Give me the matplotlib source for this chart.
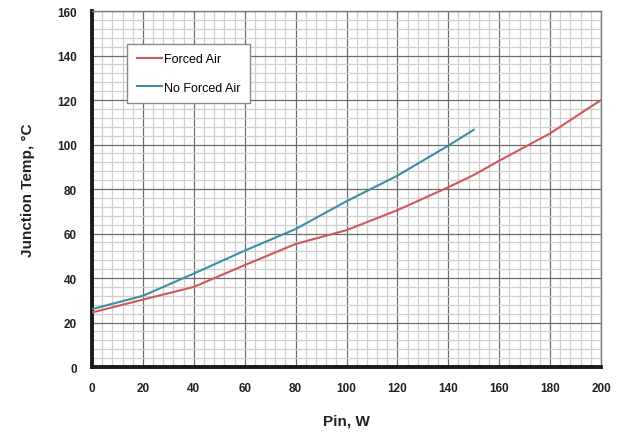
import matplotlib
matplotlib.use("Agg")
import matplotlib.pyplot as plt
from matplotlib.ticker import MultipleLocator

pin_forced = [0, 20, 40, 60, 80, 100, 120, 140, 150, 160, 180, 200]
temp_forced = [24.5, 30.3, 36.0, 45.8, 55.3, 61.5, 70.5, 80.8, 86.3, 92.7, 105.0, 120.0]
pin_noforced = [0, 20, 40, 60, 80, 100, 120, 140, 150]
temp_noforced = [26.0, 32.0, 42.0, 52.3, 62.0, 74.5, 86.0, 99.5, 106.6]

plt.rcParams['font.family'] = ['Liberation Sans', 'DejaVu Sans']

fig = plt.figure(figsize=(6.29, 4.35), dpi=100)
ax = fig.add_axes([0.1463, 0.154, 0.8092, 0.8184])

ax.plot(pin_forced, temp_forced, color='#d0575a', lw=1.5, label='Forced Air', zorder=3)
ax.plot(pin_noforced, temp_noforced, color='#3c8ea5', lw=1.5, label='No Forced Air', zorder=3)

ax.set_xlim(0, 200)
ax.set_ylim(0, 160)
ax.xaxis.set_major_locator(MultipleLocator(20))
ax.yaxis.set_major_locator(MultipleLocator(20))
ax.xaxis.set_minor_locator(MultipleLocator(4))
ax.yaxis.set_minor_locator(MultipleLocator(4))
ax.grid(which='major', color='#6e6e6e', lw=0.9, zorder=1)
ax.grid(which='minor', color='#cfcfcf', lw=0.9, zorder=0)
ax.set_axisbelow(True)
ax.tick_params(which='both', length=0)
ax.tick_params(axis='x', pad=11, labelsize=8.5, labelcolor='#222222')
ax.tick_params(axis='y', pad=11, labelsize=8.5, labelcolor='#222222')
for lab in ax.get_xticklabels() + ax.get_yticklabels():
    lab.set_fontweight('bold')

for s in ['left', 'bottom']:
    ax.spines[s].set_color('#1a1a1a')
    ax.spines[s].set_linewidth(2.8)
for s in ['top', 'right']:
    ax.spines[s].set_color('#7a7a7a')
    ax.spines[s].set_linewidth(1.0)

ax.set_xlabel('Pin, W', fontsize=11, fontweight='bold', color='#222222', labelpad=14)
ax.set_ylabel('Junction Temp, °C', fontsize=11, fontweight='bold', color='#222222', labelpad=16)

leg = ax.legend(loc='upper left', bbox_to_anchor=(0.069, 0.907), fontsize=9,
                frameon=True, fancybox=False, edgecolor='#8a8a8a', framealpha=1,
                handlelength=2.0, handletextpad=0.2, labelspacing=1.3,
                borderpad=0.75, borderaxespad=0)
leg.get_frame().set_linewidth(1.0)

fig.savefig('out.png', dpi=100)
